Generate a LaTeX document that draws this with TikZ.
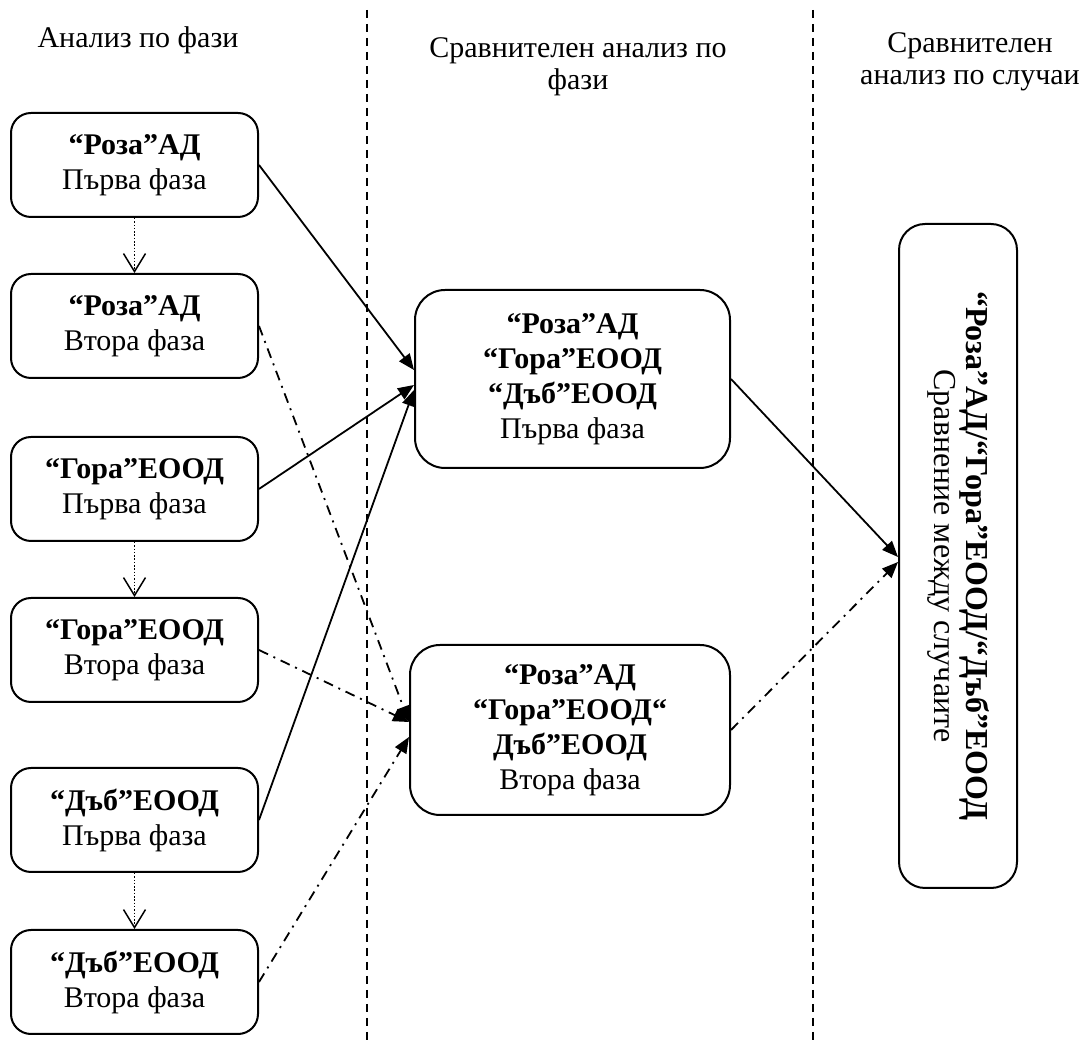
\documentclass[tikz,border=0pt]{standalone}
\usepackage{fontspec}
\setmainfont{Liberation Serif}
\usetikzlibrary{arrows.meta}

\begin{document}
\begin{tikzpicture}[
    x=0.5pt, y=-0.5pt,
    every node/.style={font=\fontsize{15}{17.5}\selectfont, align=center, inner sep=2mm},
    faza/.style={rectangle, rounded corners=10pt, draw, line width=1pt,
        minimum width=123.5pt, minimum height=52pt},
    sravn/.style={rectangle, rounded corners=15pt, draw, line width=1pt},
    zaglavie/.style={inner sep=0pt, font=\fontsize{15}{16}\selectfont},
    granica/.style={line width=0.75pt, dash pattern=on 4pt off 3pt},
    vrazka/.style={line width=0.9pt, -{Triangle[length=8pt, width=6.5pt]}},
    vtora/.style={vrazka, dash pattern=on 5pt off 3pt on 1pt off 3pt},
    sledva/.style={line width=0.75pt, dash pattern=on 0.75pt off 0.9pt,
        -{Straight Barb[length=9pt, width=11pt, line width=0.75pt]}}
    ]
\useasboundingbox (0,0) rectangle (1089,1042);

%headers
\node[zaglavie] (h1) at (138,40) {Анализ по фази};
\node[zaglavie] (h2) at (578,67) {Сравнителен анализ по\\фази};
\node[zaglavie] (h3) at (970,62) {Сравнителен\\анализ по случаи};

%borders
\draw[granica] (367,10) -- (367,1042);
\draw[granica] (813,10) -- (813,1042);

%left column
\node[faza] (r1) at (134.5,165) {\textbf{“Роза”АД}\\Първа фаза};
\node[faza] (r2) at (134.5,326) {\textbf{“Роза”АД}\\Втора фаза};
\node[faza] (g1) at (134.5,489) {\textbf{“Гора”ЕООД}\\Първа фаза};
\node[faza] (g2) at (134.5,650) {\textbf{“Гора”ЕООД}\\Втора фаза};
\node[faza] (d1) at (134.5,820) {\textbf{“Дъб”ЕООД}\\Първа фаза};
\node[faza] (d2) at (134.5,982) {\textbf{“Дъб”ЕООД}\\Втора фаза};

%middle column
\node[sravn, minimum width=157.5pt, minimum height=89pt] (ma) at (572.5,379)
    {\textbf{“Роза”АД}\\\textbf{“Гора”ЕООД}\\\textbf{“Дъб”ЕООД}\\Първа фаза};
\node[sravn, minimum width=160pt, minimum height=85pt] (mb) at (570,730)
    {\textbf{“Роза”АД}\\\textbf{“Гора”ЕООД“}\\\textbf{Дъб”ЕООД}\\Втора фаза};

%right column
\node[sravn, rounded corners=13pt, rotate=-90, minimum width=332pt,
    minimum height=59pt, font=\fontsize{16}{16}\selectfont] (kraj) at (958,556)
    {\textbf{“Роза”АД/“Гора”ЕООД/“Дъб”ЕООД}\\Сравнение между случаите};

%phases
\draw[sledva] (r1) -- (r2);
\draw[sledva] (g1) -- (g2);
\draw[sledva] (d1) -- (d2);

%first phase
\draw[vrazka] (r1.east) -- ([yshift=4.5pt]ma.west);
\draw[vrazka] (g1.east) -- ([yshift=-3pt]ma.west);
\draw[vrazka] (d1.east) -- ([yshift=-5.5pt]ma.west);

%second phase
\draw[vtora] (r2.east) -- ([yshift=4pt]mb.west);
\draw[vtora] (g2.east) -- ([yshift=4pt]mb.west);
\draw[vtora] (d2.east) -- ([yshift=-3.5pt]mb.west);

%cases
\draw[vrazka] (ma.east) -- ([yshift=-0.5pt]kraj.south);
\draw[vtora] (mb.east) -- ([yshift=-3pt]kraj.south);
\end{tikzpicture}
\end{document}
